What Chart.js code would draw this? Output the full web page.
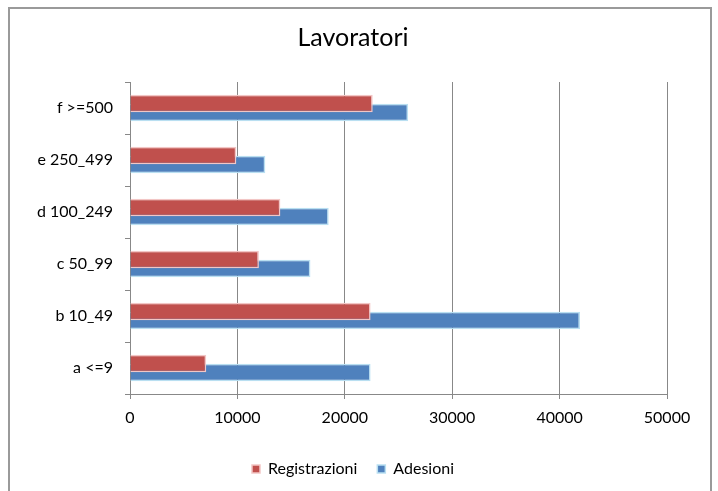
<!DOCTYPE html>
<html>
<head>
<meta charset="utf-8">
<script src="https://cdn.jsdelivr.net/npm/chart.js@4.4.1/dist/chart.umd.min.js"></script>
<style>
    body { margin: 0; background: #fff; }
    .canvasContainer { width: 718px; height: 491px; position: relative; }
</style>
</head>
<body>
<div class="canvasContainer">
    <canvas id="myChart"></canvas>
</div>
<script>
const categories = ['f >=500', 'e 250_499', 'd 100_249', 'c 50_99', 'b 10_49', 'a <=9']
const registrazioni = [22600, 9900, 14000, 12000, 22400, 7100]
const adesioni = [25900, 12600, 18500, 16800, 41900, 22400]
const xTicks = [0, 10000, 20000, 30000, 40000, 50000]

const gridColor = '#888888'
const fontFamily = 'Lato, "Open Sans", sans-serif'

// outer frame of the chart area (left, top and right edges only)
const chartFrame = {
    id: 'chartFrame',
    afterDraw(chart){
        const ctx = chart.ctx
        ctx.save()
        ctx.strokeStyle = '#9a9a9a'
        ctx.lineWidth = 2
        ctx.beginPath()
        ctx.moveTo(9, 491)
        ctx.lineTo(9, 8)
        ctx.lineTo(711, 8)
        ctx.lineTo(711, 491)
        ctx.stroke()
        ctx.restore()
    }
}

const ctx = document.getElementById('myChart').getContext('2d')
new Chart(ctx, {
    type: 'bar',
    data: {
        labels: categories,
        datasets: [
            {
                label: 'Registrazioni',
                data: registrazioni,
                backgroundColor: '#C0504D',
                borderColor: '#F2C6C5',
                borderWidth: 1.5
            },
            {
                label: 'Adesioni',
                data: adesioni,
                backgroundColor: '#4F81BD',
                borderColor: '#B9DFF1',
                borderWidth: 1.5
            }
        ]
    },
    options: {
        indexAxis: 'y',
        responsive: true,
        maintainAspectRatio: false,
        animation: false,
        devicePixelRatio: 1,
        categoryPercentage: 0.346,
        barPercentage: 1.94,
        layout: {
            padding: {left: 0, right: 12, top: 0, bottom: 4}
        },
        scales: {
            y: {
                afterFit(scale){
                    scale.width = 130
                },
                grid: {drawOnChartArea: false, color: gridColor, tickLength: 5},
                border: {color: gridColor, width: 1},
                ticks: {
                    color: '#000',
                    padding: 12,
                    font: {family: fontFamily, size: 16}
                }
            },
            // empty right-hand spacer so the plot ends where the reference does
            spacer: {
                type: 'linear',
                axis: 'y',
                position: 'right',
                afterFit(scale){
                    scale.width = 39
                },
                grid: {display: false},
                border: {display: false},
                ticks: {display: false}
            },
            x: {
                min: 0,
                max: 50000,
                afterBuildTicks(scale){
                    scale.ticks = xTicks.map(v => ({value: v}))
                },
                afterFit(scale){
                    scale.height = 47
                },
                grid: {color: gridColor, tickLength: 5, lineWidth: 1},
                border: {color: gridColor, width: 1},
                ticks: {
                    color: '#000',
                    padding: 9,
                    font: {family: fontFamily, size: 16},
                    callback: v => String(v)
                }
            }
        },
        plugins: {
            title: {
                display: true,
                text: 'Lavoratori',
                color: '#000',
                font: {family: fontFamily, size: 25, weight: 'normal'},
                padding: {top: 23, bottom: 29}
            },
            legend: {
                position: 'bottom',
                labels: {
                    color: '#000',
                    boxWidth: 8,
                    boxHeight: 8,
                    padding: 20,
                    font: {family: fontFamily, size: 16}
                }
            },
            tooltip: {enabled: false}
        }
    },
    plugins: [chartFrame]
})
</script>
</body>
</html>
